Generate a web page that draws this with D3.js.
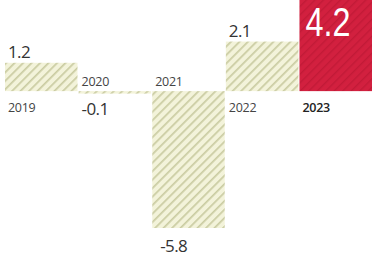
<!DOCTYPE html>
<html><head><meta charset="utf-8">
<script src="https://cdn.jsdelivr.net/npm/d3@7"></script>
<style>html,body{margin:0;padding:0;background:#fff;overflow:hidden}</style>
</head><body>
<svg id="c" width="372" height="259"></svg>
<script>
const years = ["2019","2020","2021","2022","2023"];
const values = [1.2, -0.1, -5.8, 2.1, 4.2];
const valueLabels = ["1.2","-0.1","-5.8","2.1","4.2"];

const W = 372, H = 259;
const svg = d3.select("#c");
const x = d3.scaleBand().domain(years).range([5, 372]).paddingInner(0.015).paddingOuter(0);
const y = d3.scaleLinear().domain([-5.8, 4.2]).range([228, -8]);

const defs = svg.append("defs");
const p1 = defs.append("pattern").attr("id","hatch").attr("patternUnits","userSpaceOnUse")
  .attr("width",6).attr("height",6).attr("patternTransform","rotate(45)");
p1.append("rect").attr("width",6).attr("height",6).attr("fill","#f3f3da");
p1.append("rect").attr("width",1.7).attr("height",6).attr("fill","#cacca2");
const p2 = defs.append("pattern").attr("id","hatchRed").attr("patternUnits","userSpaceOnUse")
  .attr("width",6).attr("height",6).attr("patternTransform","rotate(45)");
p2.append("rect").attr("width",6).attr("height",6).attr("fill","#d2203f");
p2.append("rect").attr("width",1.4).attr("height",6).attr("fill","#c21a37");

const last = years.length - 1;
svg.selectAll("rect.bar").data(values).enter().append("rect")
  .attr("class","bar")
  .attr("x",(d,i)=>x(years[i]))
  .attr("width",x.bandwidth())
  .attr("y",d=>Math.min(y(d),y(0)))
  .attr("height",d=>Math.max(2.5,Math.abs(y(d)-y(0))))
  .attr("fill",(d,i)=>i===last?"url(#hatchRed)":"url(#hatch)");

const font = "'Open Sans', 'Noto Sans', sans-serif";
const bigX = x(years[last]) + 6;
// value labels
svg.selectAll("text.val").data(values).enter().append("text")
  .attr("class","val")
  .attr("x",(d,i)=>x(years[i]) + (i===last ? 6 : (d<-1 ? 8 : 3)))
  .attr("y",(d,i)=> i===last ? 36 : (d>=0 ? y(d)-5 : (d>-1 ? y(0)+24 : y(d)+24)))
  .attr("font-family",(d,i)=> i===last ? "'Liberation Sans', Arial, sans-serif" : font)
  .attr("font-size",(d,i)=> i===last ? 41 : 17)
  .attr("fill",(d,i)=> i===last ? "#fff" : "#333")
  .attr("transform",(d,i)=> i===last ? `translate(${bigX},0) scale(0.79,1) translate(${-bigX},0)` : null)
  .attr("letter-spacing",(d,i)=> i===last ? 0 : -0.6)
  .text((d,i)=>valueLabels[i]);

// year labels
svg.selectAll("text.yr").data(values).enter().append("text")
  .attr("class","yr")
  .attr("x",(d,i)=>x(years[i]) + 3)
  .attr("y",d=> d>=0 ? y(0)+21 : y(0)-5)
  .attr("font-family", font)
  .attr("font-size",12.5)
  .attr("font-weight",(d,i)=> i===last ? 600 : 400)
  .attr("fill",(d,i)=> i===last ? "#222" : "#444")
  .attr("letter-spacing",-0.3)
  .text((d,i)=>years[i]);
</script>
</body></html>
